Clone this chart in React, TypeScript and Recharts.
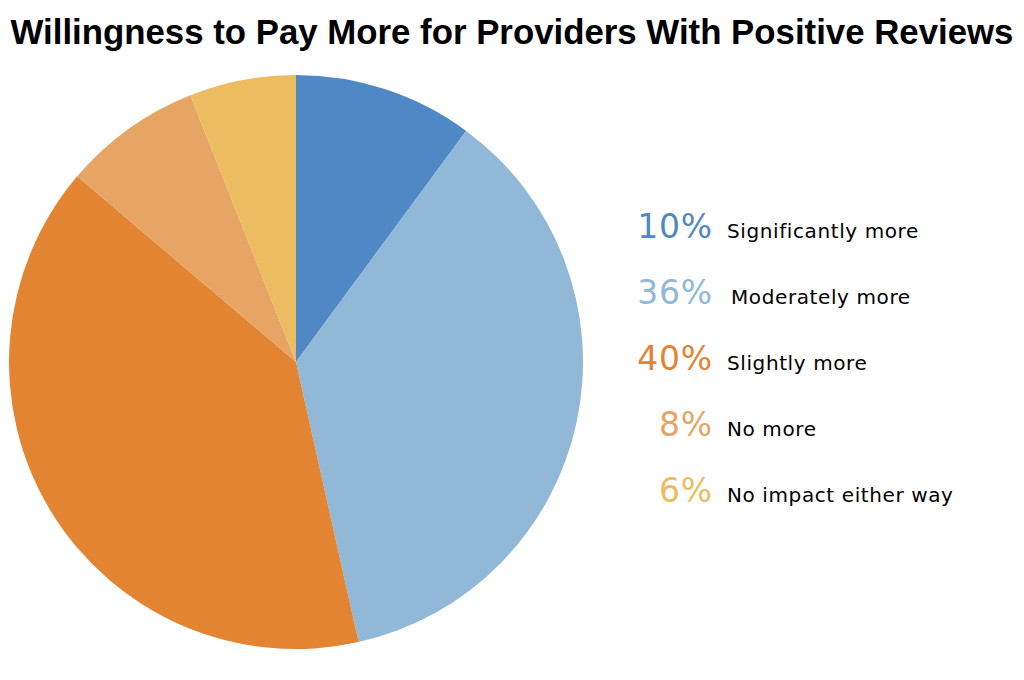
import React from "react";
import { PieChart, Pie, Cell, Legend } from "recharts";

const categories = [
  "Significantly more",
  "Moderately more",
  "Slightly more",
  "No more",
  "No impact either way",
];
const shares = [10.1, 36.4, 39.7, 7.8, 6.0];
const percentLabels = ["10%", "36%", "40%", "8%", "6%"];
const colors = ["#5088C6", "#92B8D7", "#E38432", "#E6A565", "#EBBC60"];
const title = "Willingness to Pay More for Providers With Positive Reviews";

const data = categories.map((name, i) => ({ name, value: shares[i] }));

const LegendContent = () => (
  <svg width={400} height={340}>
    {categories.map((c, i) => (
      <g key={c}>
        <text
          x={93}
          y={38 + i * 66}
          textAnchor="end"
          fill={colors[i]}
          fontFamily="DejaVu Sans, Verdana, sans-serif"
          fontSize={33}
          letterSpacing={0.8}
        >
          {percentLabels[i]}
        </text>
        <text
          x={i === 1 ? 111 : 107}
          y={38 + i * 66}
          fill="#000"
          fontFamily="DejaVu Sans, Verdana, sans-serif"
          fontSize={20}
          letterSpacing={0.6}
        >
          {c}
        </text>
      </g>
    ))}
  </svg>
);

export default function App() {
  return (
    <div
      style={{
        position: "absolute",
        left: 0,
        top: 0,
        width: 1024,
        height: 680,
        background: "#fff",
      }}
    >
      <div
        style={{
          position: "absolute",
          left: 0,
          top: 12,
          width: 1024,
          textAlign: "center",
          fontFamily: "Liberation Sans, Arial, sans-serif",
          fontWeight: "bold",
          fontSize: 34.8,
          lineHeight: "40px",
          color: "#000",
          whiteSpace: "nowrap",
        }}
      >
        {title}
      </div>
      <PieChart
        width={1024}
        height={680}
        margin={{ top: 0, right: 0, bottom: 0, left: 0 }}
      >
        <Pie
          data={data}
          dataKey="value"
          nameKey="name"
          cx={296}
          cy={362}
          outerRadius={287}
          innerRadius={0}
          startAngle={90}
          endAngle={-270}
          stroke="none"
          isAnimationActive={false}
        >
          {data.map((d, i) => (
            <Cell key={d.name} fill={colors[i]} stroke="none" />
          ))}
        </Pie>
        <Legend
          content={<LegendContent />}
          wrapperStyle={{ position: "absolute", left: 620, top: 200, width: 400, height: 340 }}
        />
      </PieChart>
    </div>
  );
}
